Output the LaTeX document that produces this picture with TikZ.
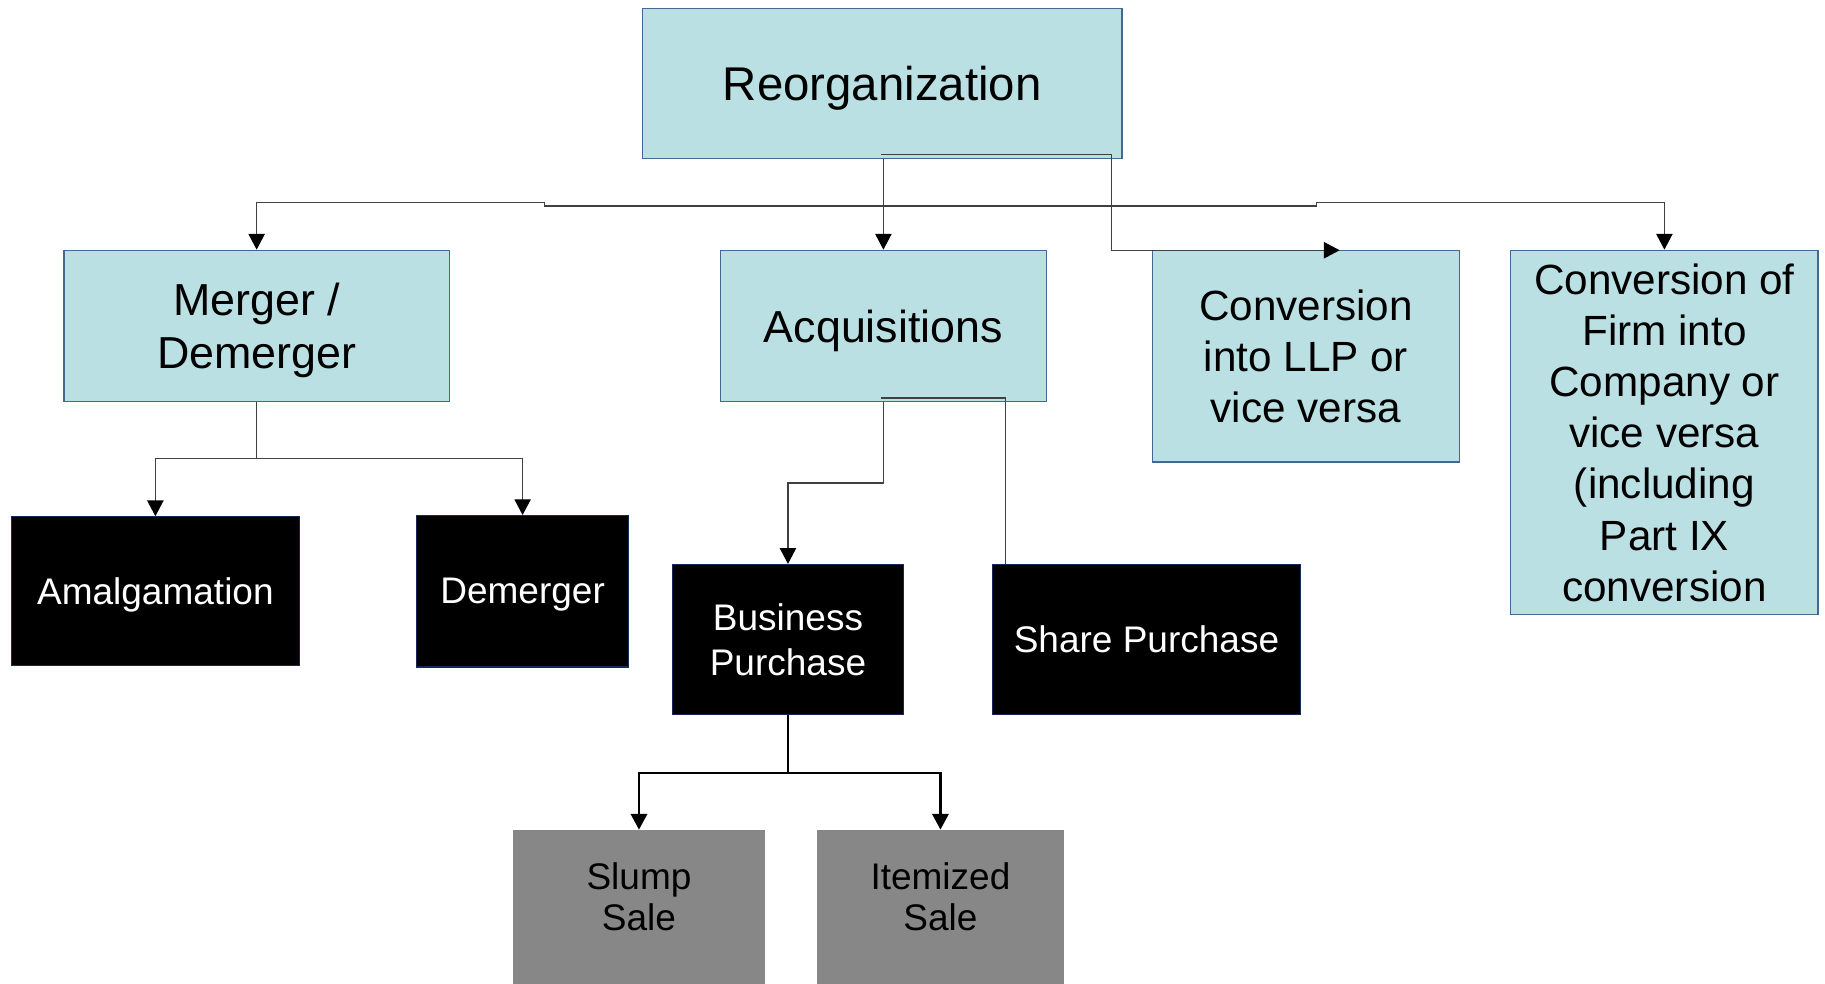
\documentclass[tikz,border=0pt]{standalone}
\usepackage{fontspec}
\setmainfont{Liberation Sans}
\usetikzlibrary{arrows.meta}
\definecolor{boxblue}{RGB}{187,224,227}
\definecolor{edgeblue}{RGB}{65,105,150}
\definecolor{edgenavy}{RGB}{20,40,90}
\definecolor{salegray}{RGB}{135,135,135}

\begin{document}
\begin{tikzpicture}[x=1pt, y=-1pt,
  bluebox/.style={draw=edgeblue, line width=1pt, fill=boxblue, align=center, inner sep=0pt, text depth=0pt},
  blackbox/.style={draw=edgenavy, line width=1pt, fill=black, text=white, align=center, inner sep=0pt, text depth=0pt, font=\fontsize{31.8}{38}\selectfont},
  salebox/.style={fill=salegray, inner sep=0pt, minimum height=132pt},
  saletext/.style={align=center, font=\fontsize{31.8}{35.2}\selectfont, yshift=8.5pt},
  link/.style={draw=black!75, line width=1pt},
  boldlink/.style={draw=black, line width=2pt},
  >={Triangle[length=13.5pt, width=14pt, color=black]}]

\useasboundingbox (0,0) rectangle (1568,845);

% Reorganization
\node (reorg) [bluebox, minimum width=412pt, minimum height=129pt, font=\fontsize{40.7}{48.8}\selectfont] at (758,71.5) {Reorganization};

% Primo livello
\node (merger) [bluebox, minimum width=331pt, minimum height=130pt, font=\fontsize{38.5}{46}\selectfont] at (220.5,280) {Merger /\\Demerger};
\node (acq) [bluebox, minimum width=280pt, minimum height=130pt, font=\fontsize{38.5}{46}\selectfont] at (759,280) {Acquisitions};
\node (llp) [bluebox, minimum width=264pt, minimum height=182pt, font=\fontsize{36.3}{44}\selectfont] at (1122,306) {Conversion\\into LLP or\\vice versa};
\node (firm) [bluebox, minimum width=264pt, minimum height=313pt, font=\fontsize{36.3}{44}\selectfont] at (1430,371.5) {Conversion of\\Firm into\\Company or\\vice versa\\(including\\Part IX\\conversion};

% Secondo livello
\node (amal) [blackbox, minimum width=247pt, minimum height=128pt] at (133.5,508) {Amalgamation};
\node (demer) [blackbox, minimum width=182pt, minimum height=130pt] at (449,508) {Demerger};
\node (bp) [blackbox, minimum width=198pt, minimum height=129pt] at (677,549.5) {Business\\Purchase};
\node (sp) [blackbox, minimum width=264pt, minimum height=129pt] at (985,549.5) {Share Purchase};

% Terzo livello
\node (slump) [salebox, minimum width=216pt, label={[saletext]center:{Slump\\Sale}}] at (549,779) {};
\node (item) [salebox, minimum width=212pt, label={[saletext]center:{Itemized\\Sale}}] at (808,779) {};

% Reorganization -> primo livello
\coordinate (rj) at (759,177);
\coordinate (jl) at (468,177);
\coordinate (jl2) at (468,174);
\coordinate (jr) at (1131,177);
\coordinate (jr2) at (1131,174);
\draw [link] (acq.north |- reorg.south) -- (rj);
\draw [link,->] (rj) -- (acq.north);
\draw [link,->] (rj) -- (jl) -- (jl2) -| (merger.north);
\draw [link,->] (rj) -- (jr) -- (jr2) -| (firm.north);

% Reorganization -> LLP
\coordinate (la) at (757,133);
\coordinate (lb) at (955,133);
\coordinate (lc) at (1151,215);
\draw [link,->] (la) -- (lb) |- (lc);

% Merger / Demerger
\coordinate (mj) at (220.5,394);
\draw [link] (merger.south) -- (mj);
\draw [link,->] (mj) -| (amal.north);
\draw [link,->] (mj) -| (demer.north);

% Acquisitions
\coordinate (aj) at (759,415);
\draw [link,->] (acq.south) -- (aj) -| (bp.north);
\coordinate (sa) at (757,342);
\coordinate (sb) at (864,342);
\draw [link] (sa) -- (sb) -- (sb |- sp.north);

% Business Purchase
\coordinate (bj) at (677,664);
\draw [boldlink] (bp.south) -- (bj);
\draw [boldlink,->] (bj) -| (slump.north);
\draw [boldlink,->] (bj) -| (item.north);

\end{tikzpicture}
\end{document}
